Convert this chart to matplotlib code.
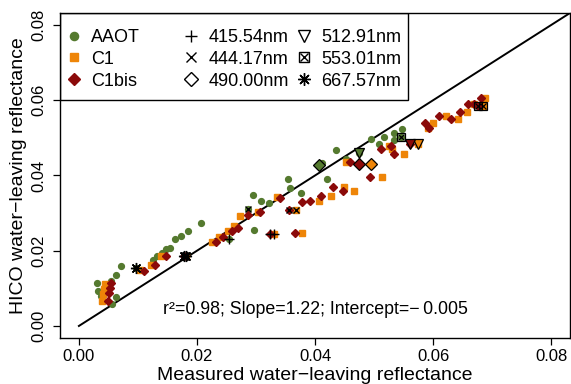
import matplotlib
matplotlib.use('Agg')
import matplotlib.pyplot as plt
from matplotlib.lines import Line2D
from matplotlib.patches import Rectangle
import numpy as np

plt.rcParams['font.family'] = ['Liberation Sans', 'DejaVu Sans']

# measured (x) vs HICO (y) water-leaving reflectance, plain points per site
aaot_x = [0.00304, 0.00331, 0.00372, 0.00546, 0.00626, 0.00715, 0.00626, 0.00558,
          0.01261, 0.01329, 0.01403, 0.01476, 0.01544, 0.01628, 0.0173, 0.01848,
          0.02073, 0.02969, 0.02942, 0.03082, 0.03217, 0.03544, 0.03572, 0.0377,
          0.0421, 0.04125, 0.04362, 0.04531, 0.04954, 0.05077, 0.05162, 0.0533,
          0.0533, 0.05478]
aaot_y = [0.01139, 0.00941, 0.0080, 0.01208, 0.0136, 0.01581, 0.00781, 0.00587,
          0.01741, 0.01867, 0.01939, 0.02053, 0.02072, 0.02312, 0.0240, 0.02515,
          0.02739, 0.02547, 0.03475, 0.03333, 0.03272, 0.03912, 0.03672, 0.03539,
          0.03912, 0.04339, 0.04667, 0.04445, 0.0496, 0.04845, 0.05021, 0.05139,
          0.04933, 0.05245]

c1_x = [0.00445, 0.00428, 0.00406, 0.00389, 0.01036, 0.01217, 0.01391, 0.02259,
        0.02377, 0.02529, 0.02626, 0.02727, 0.03036, 0.03358, 0.03787, 0.04068,
        0.04277, 0.04485, 0.04659, 0.04531, 0.05133, 0.05246, 0.05309, 0.05505,
        0.05995, 0.05922, 0.06222, 0.06418, 0.06577, 0.067, 0.06886]
c1_y = [0.0112, 0.00979, 0.00853, 0.00667, 0.01475, 0.01608, 0.01848, 0.02232,
        0.02365, 0.02533, 0.02648, 0.02933, 0.03032, 0.03421, 0.02472, 0.03315,
        0.03467, 0.03688, 0.036, 0.04355, 0.03965, 0.04781, 0.04712, 0.04579,
        0.05405, 0.05272, 0.05581, 0.05512, 0.05699, 0.05893, 0.06053]

c1bis_x = [0.00546, 0.00529, 0.00517, 0.005, 0.01109, 0.0129, 0.01471, 0.02321,
           0.02434, 0.02587, 0.02698, 0.02867, 0.03065, 0.03403, 0.03669, 0.0378,
           0.03922, 0.04108, 0.04304, 0.04473, 0.04587, 0.04925, 0.05123, 0.05292,
           0.05336, 0.05866, 0.05939, 0.06096, 0.06306, 0.06463, 0.06587, 0.06688,
           0.06813]
c1bis_y = [0.01139, 0.01005, 0.00872, 0.00667, 0.01467, 0.01608, 0.01867, 0.02232,
           0.02365, 0.02533, 0.02605, 0.02941, 0.03032, 0.03405, 0.02472, 0.03299,
           0.03315, 0.03448, 0.03688, 0.036, 0.04355, 0.03955, 0.04712, 0.04781,
           0.04579, 0.05405, 0.05272, 0.05581, 0.05512, 0.05699, 0.05893, 0.05893,
           0.06053]

# highlighted bands: 415.54, 444.17, 490.00, 512.91, 553.01, 667.57 nm
bands = ['415.54nm', '444.17nm', '490.00nm', '512.91nm', '553.01nm', '667.57nm']
aaot_band_x = [0.02546, 0.02871, 0.04068, 0.04739, 0.05461, 0.00969]
aaot_band_y = [0.02312, 0.03112, 0.04275, 0.04587, 0.05032, 0.01547]
c1_band_x = [0.03302, 0.03674, 0.04954, 0.05753, 0.06852, 0.01814]
c1_band_y = [0.02453, 0.03093, 0.04293, 0.04845, 0.05848, 0.01867]
c1bis_band_x = [0.03246, 0.03555, 0.04744, 0.05601, 0.06768, 0.0178]
c1bis_band_y = [0.02453, 0.03093, 0.04293, 0.04845, 0.05848, 0.01867]

sites = ['AAOT', 'C1', 'C1bis']
colors = ['#557a2f', '#ee8508', '#8b0a0a']
shapes = ['o', 's', 'D']
sizes = [4.2, 3.8, 4.2]

fig = plt.figure(figsize=(5.71, 3.84), dpi=100)
ax = fig.add_axes([60 / 571, 46 / 384, 510 / 571, 325 / 384])

ax.plot([0, 1], [0, 1], color='black', lw=1.4, zorder=1)

site_data = [
    (aaot_x, aaot_y, aaot_band_x, aaot_band_y),
    (c1_x, c1_y, c1_band_x, c1_band_y),
    (c1bis_x, c1bis_y, c1bis_band_x, c1bis_band_y),
]

for (px, py, bx, by), col, mk, ms in zip(site_data, colors, shapes, sizes):
    ax.plot(px + bx, py + by, ls='none', marker=mk, ms=ms, color=col,
            mec=col, zorder=2)
    # + and x
    ax.plot(bx[0], by[0], ls='none', marker='+', ms=7, mew=1.0, color='black', zorder=3)
    ax.plot(bx[1], by[1], ls='none', marker='x', ms=5, mew=1.0, color='black', zorder=3)
    # diamond and down triangle filled with site colour
    ax.plot(bx[2], by[2], ls='none', marker='D', ms=6, mfc=col, mec='black', mew=0.9, zorder=3)
    ax.plot(bx[3], by[3], ls='none', marker='v', ms=7, mfc=col, mec='black', mew=0.9, zorder=3)
    # boxed x
    ax.plot(bx[4], by[4], ls='none', marker='s', ms=5.5, mfc='none', mec='black', mew=0.9, zorder=3)
    ax.plot(bx[4], by[4], ls='none', marker='x', ms=4.5, mew=0.9, color='black', zorder=3)
    # asterisk
    ax.plot(bx[5], by[5], ls='none', marker=(8, 2, 0), ms=8, mew=1.0, color='black', zorder=3)

ax.text(0.04, 0.0045, 'r\u00b2=0.98; Slope=1.22; Intercept=\u2212\u20090.005',
        ha='center', va='center', fontsize=12.8)

ax.set_xlim(-0.0032, 0.0832)
ax.set_ylim(-0.0032, 0.0832)
ticks = [0.00, 0.02, 0.04, 0.06, 0.08]
ax.set_xticks(ticks)
ax.set_yticks(ticks)
ax.set_xticklabels(['%.2f' % t for t in ticks], fontsize=12)
ax.set_yticklabels(['%.2f' % t for t in ticks], fontsize=12, rotation=90, va='center')
ax.tick_params(axis='both', direction='out', length=5, width=0.9, color='black')
ax.tick_params(axis='x', pad=3)
ax.tick_params(axis='y', pad=5)
for s in ax.spines.values():
    s.set_linewidth(1.0)
    s.set_color('black')

ax.set_xlabel('Measured water\u2212leaving reflectance', fontsize=14, labelpad=2)
ax.set_ylabel('HICO water\u2212leaving reflectance', fontsize=14, labelpad=3)

# legend: three columns of equal width inside a single box
col1 = [Line2D([], [], ls='none', marker=m, ms=s * 1.4, color=c)
        for m, s, c in zip(shapes, sizes, colors)]
plus_h = Line2D([], [], ls='none', marker='+', ms=9, mew=1.0, color='black')
x_h = Line2D([], [], ls='none', marker='x', ms=7, mew=1.0, color='black')
dia_h = Line2D([], [], ls='none', marker='D', ms=7, mfc='white', mec='black', mew=1.0)
tri_h = Line2D([], [], ls='none', marker='v', ms=8, mfc='white', mec='black', mew=1.0)
box_h = (Line2D([], [], ls='none', marker='s', ms=6.5, mfc='white', mec='black', mew=1.0),
         Line2D([], [], ls='none', marker='x', ms=5.5, mew=1.0, color='black'))
ast_h = Line2D([], [], ls='none', marker=(8, 2, 0), ms=9, mew=1.0, color='black')

leg_kw = dict(loc='upper left', frameon=False, borderpad=0, borderaxespad=0,
              handlelength=1.0, handletextpad=0.45, labelspacing=0.27, fontsize=13)
leg1 = ax.legend(col1, sites, bbox_to_anchor=(0.0098, 0.951), **leg_kw)
ax.add_artist(leg1)
leg2 = ax.legend([plus_h, x_h, dia_h], bands[:3], bbox_to_anchor=(0.24, 0.951), **leg_kw)
ax.add_artist(leg2)
leg3 = ax.legend([tri_h, box_h, ast_h], bands[3:], bbox_to_anchor=(0.461, 0.951), **leg_kw)
ax.add_patch(Rectangle((0, 0.732), 0.682, 0.268, transform=ax.transAxes,
                       fill=False, edgecolor='black', lw=1.0, zorder=5))

fig.savefig('out.png', dpi=100)
